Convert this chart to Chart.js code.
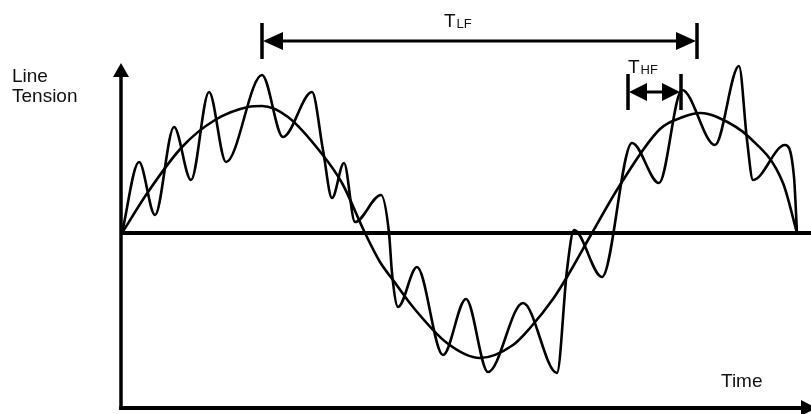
<!DOCTYPE html>
<html>
<head>
<meta charset="utf-8">
<title>Line Tension</title>
<script src="https://cdn.jsdelivr.net/npm/chart.js@4.4.1/dist/chart.umd.min.js"></script>
<style>
  html, body { margin: 0; padding: 0; background: #fff; }
  #wrap { width: 811px; height: 414px; }
</style>
</head>
<body>
<div id="wrap"><canvas id="tension-chart" width="811" height="414"></canvas></div>
<script>
// low frequency component
const timeLF = [0, 26, 60, 93, 126, 140, 166, 200, 220, 243, 258, 271, 291, 325, 358, 391, 408, 431, 445, 470, 498, 538, 561, 578, 595, 628, 661, 675];
const tensionLF = [0, 41, 86, 113, 126, 127, 116, 79, 50, 0, -29, -47, -74, -110, -125, -112, -95, -66, -44, 0, 48, 104, 116, 120, 116, 95, 50, 0];

// low + high frequency signal
const timeHF = [0, 17, 33, 52, 69, 87, 104, 140, 161, 190, 201, 210, 222, 233, 259, 267, 270, 276, 295, 321, 344, 366, 401, 435, 445, 452, 480, 510, 537, 560, 593, 617, 625, 631, 663, 672, 675];
const tensionHF = [0, 71, 18, 106, 53, 141, 71, 158, 96, 141, 83, 35, 70, 11, 38, 0, -40, -74, -34, -122, -66, -139, -70, -140, -37, 3, -44, 90, 50, 143, 88, 167, 93, 53, 88, 56, 0];

// zero line
const timeBase = [0, 689];
const tensionBase = [0, 0];

// period markers: [start, end, level]
const periodLF = [140, 575, 192];
const periodHF = [506, 559, 141];

const toPoints = (xs, ys) => xs.map((x, i) => ({ x: x, y: ys[i] }));

const FONT = '"Liberation Sans", Arial, sans-serif';

function arrowHead(ctx, tipX, tipY, dirX, dirY, len, half) {
    // dir is a unit vector pointing towards the tip
    const bx = tipX - dirX * len, by = tipY - dirY * len;
    ctx.beginPath();
    ctx.moveTo(tipX, tipY);
    ctx.lineTo(bx - dirY * half, by + dirX * half);
    ctx.lineTo(bx + dirY * half, by - dirX * half);
    ctx.closePath();
    ctx.fill();
}

function periodMarker(ctx, xs, ys, span, barHalf, headLen, headHalf) {
    const x1 = xs.getPixelForValue(span[0]);
    const x2 = xs.getPixelForValue(span[1]);
    const y = ys.getPixelForValue(span[2]);
    ctx.lineWidth = 3.5;
    ctx.beginPath();
    ctx.moveTo(x1, y - barHalf); ctx.lineTo(x1, y + barHalf);
    ctx.moveTo(x2, y - barHalf); ctx.lineTo(x2, y + barHalf);
    ctx.stroke();
    ctx.lineWidth = 3;
    ctx.beginPath();
    ctx.moveTo(x1 + headLen - 2, y); ctx.lineTo(x2 - headLen + 2, y);
    ctx.stroke();
    arrowHead(ctx, x1 + 1, y, -1, 0, headLen, headHalf);
    arrowHead(ctx, x2 - 1, y, 1, 0, headLen, headHalf);
}

function subLabel(ctx, x, y, main, sub) {
    ctx.textAlign = 'left';
    ctx.textBaseline = 'alphabetic';
    ctx.font = '19px ' + FONT;
    ctx.fillText(main, x, y);
    const w = ctx.measureText(main).width;
    ctx.font = '13px ' + FONT;
    ctx.fillText(sub, x + w + 1, y + 1);
}

const decorations = {
    id: 'decorations',
    afterDatasetsDraw(chart) {
        const ctx = chart.ctx;
        const xs = chart.scales.x, ys = chart.scales.y;
        const x0 = xs.getPixelForValue(-1);
        const yTop = ys.getPixelForValue(170);
        const yBottom = ys.getPixelForValue(-175);
        const xRight = xs.getPixelForValue(694);

        ctx.save();
        ctx.fillStyle = '#000';
        ctx.strokeStyle = '#000';
        ctx.lineCap = 'butt';

        // vertical axis
        ctx.lineWidth = 3.5;
        ctx.beginPath();
        ctx.moveTo(x0, yBottom + 2);
        ctx.lineTo(x0, yTop + 10);
        ctx.stroke();
        arrowHead(ctx, x0, yTop, 0, -1, 14, 8);

        // time axis
        ctx.lineWidth = 4;
        ctx.beginPath();
        ctx.moveTo(x0 - 1.75, yBottom);
        ctx.lineTo(xRight - 10, yBottom);
        ctx.stroke();
        arrowHead(ctx, xRight, yBottom, 1, 0, 15, 8);

        // period markers
        periodMarker(ctx, xs, ys, periodLF, 18, 20, 9);
        periodMarker(ctx, xs, ys, periodHF, 18, 18, 9);

        // labels
        ctx.fillStyle = '#111';
        subLabel(ctx, xs.getPixelForValue(322), ys.getPixelForValue(206), 'T', 'LF');
        subLabel(ctx, xs.getPixelForValue(506), ys.getPixelForValue(160), 'T', 'HF');

        ctx.font = '19px ' + FONT;
        ctx.textAlign = 'left';
        ctx.fillText('Line', xs.getPixelForValue(-110), ys.getPixelForValue(151));
        ctx.fillText('Tension', xs.getPixelForValue(-110), ys.getPixelForValue(131));
        ctx.fillText('Time', xs.getPixelForValue(599), ys.getPixelForValue(-154));
        ctx.restore();
    }
};

const curveStyle = {
    borderColor: '#000',
    borderWidth: 2.6,
    pointRadius: 0,
    fill: false,
    cubicInterpolationMode: 'monotone'
};

new Chart(document.getElementById('tension-chart'), {
    type: 'line',
    data: {
        datasets: [
            { label: 'Zero', data: toPoints(timeBase, tensionBase), borderColor: '#000', borderWidth: 4, pointRadius: 0, fill: false },
            Object.assign({ label: 'Low frequency' }, curveStyle, { data: toPoints(timeLF, tensionLF) }),
            Object.assign({ label: 'Signal' }, curveStyle, { data: toPoints(timeHF, tensionHF) })
        ]
    },
    options: {
        responsive: false,
        animation: false,
        layout: { padding: 0 },
        plugins: { legend: { display: false }, tooltip: { enabled: false } },
        scales: {
            x: { type: 'linear', min: -122, max: 689, display: false },
            y: { type: 'linear', min: -181, max: 233, display: false }
        }
    },
    plugins: [decorations]
});
</script>
</body>
</html>
